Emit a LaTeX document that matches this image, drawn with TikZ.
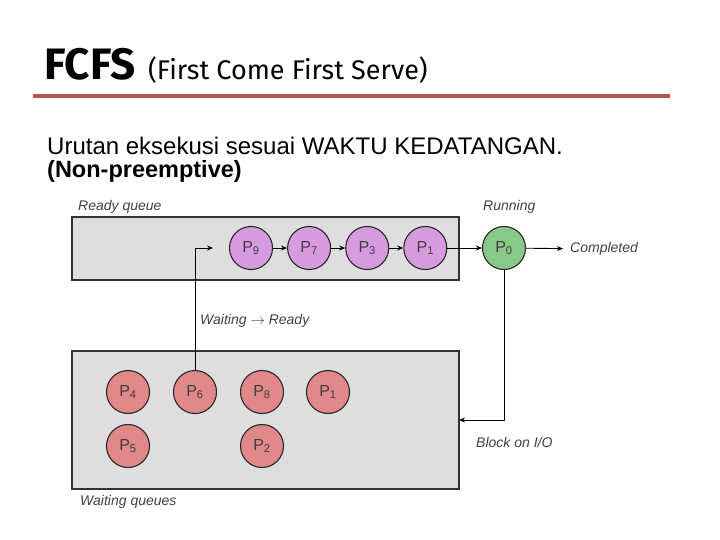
\documentclass[tikz,border=0pt]{standalone}
\usepackage{fontspec}
\setmainfont{Liberation Sans}
\newfontfamily\headfont{Fira Sans}
\usetikzlibrary{arrows.meta,positioning}
\definecolor{ruleRed}{HTML}{B4524E}
\definecolor{queueGray}{HTML}{DEDEDE}
\definecolor{procPink}{HTML}{D99BE0}
\definecolor{procGreen}{HTML}{88C988}
\definecolor{procRed}{HTML}{E0888A}

\begin{document}
\begin{tikzpicture}[
    x=1pt, y=-1pt,
    queuebox/.style={draw=black!80, line width=1.6pt, fill=queueGray, rectangle, outer sep=0pt, anchor=north west},
    proc/.style={circle, draw=black!85, line width=1.1pt, minimum size=43pt, inner sep=0pt,
                 font=\fontsize{16}{16}\selectfont, text=black!75},
    readyproc/.style={proc, fill=procPink},
    runproc/.style={proc, fill=procGreen},
    waitproc/.style={proc, fill=procRed},
    lbl/.style={font=\fontsize{14}{14}\selectfont\itshape, text=black!75, anchor=west, inner sep=0pt},
    arrow/.style={-{Stealth[length=6pt,width=5pt]}, line width=0.9pt}
]
    \useasboundingbox (0,0) rectangle (720,540);

    % Heading
    \node[anchor=base west, inner sep=0pt, font=\headfont\bfseries\fontsize{44}{44}\selectfont] (title) at (44,80) {FCFS};
    \node[anchor=base west, inner sep=0pt, font=\headfont\fontsize{27}{27}\selectfont] (subtitle) at (148,80) {(First Come First Serve)};
    \draw[line width=3.5pt, ruleRed] (33,96) -- (670,96);

    \node[anchor=base west, inner sep=0pt, font=\fontsize{24}{26}\selectfont] (desc) at (47,155) {Urutan eksekusi sesuai WAKTU KEDATANGAN.};
    \node[anchor=base west, inner sep=0pt, font=\fontsize{23.5}{26}\selectfont\bfseries] (mode) at (47,178) {(Non-preemptive)};

    % Ready queue
    \node[queuebox, minimum width=387pt, minimum height=63pt] (readyq) at (72,217) {};
    \node[lbl] at (78,207) {Ready queue};
    \node[readyproc] (p9) at (251,248) {P\textsubscript{9}};
    \node[readyproc, right=14pt of p9] (p7) {P\textsubscript{7}};
    \node[readyproc, right=14pt of p7] (p3) {P\textsubscript{3}};
    \node[readyproc, right=14pt of p3] (p1) {P\textsubscript{1}};

    % Running
    \node[runproc] (p0) at (504,248) {P\textsubscript{0}};
    \node[lbl] at (483,207) {Running};
    \node[lbl] (done) at (570,249) {Completed};

    % Waiting queues
    \node[queuebox, minimum width=387pt, minimum height=138pt] (waitq) at (72,351) {};
    \node[lbl] at (80,502) {Waiting queues};
    \node[waitproc] (w4) at (128,392) {P\textsubscript{4}};
    \node[waitproc] (w6) at (195,392) {P\textsubscript{6}};
    \node[waitproc] (w8) at (262,392) {P\textsubscript{8}};
    \node[waitproc] (w1) at (328,392) {P\textsubscript{1}};
    \node[waitproc] (w5) at (128,446) {P\textsubscript{5}};
    \node[waitproc] (w2) at (262,446) {P\textsubscript{2}};

    % Arrows
    \draw[arrow] (p9) -- (p7);
    \draw[arrow] (p7) -- (p3);
    \draw[arrow] (p3) -- (p1);
    \draw[arrow] (p1) -- (p0);
    \draw[arrow, shorten >=7pt] (p0) -- (done);

    \coordinate (back) at (213,248);
    \draw[arrow] (w6.north) |- (back);
    \node[lbl] at (200,321) {Waiting $\rightarrow$ Ready};

    \draw[arrow] (p0.south) |- (waitq.east);
    \node[lbl] at (476,442) {Block on I/O};
\end{tikzpicture}
\end{document}
